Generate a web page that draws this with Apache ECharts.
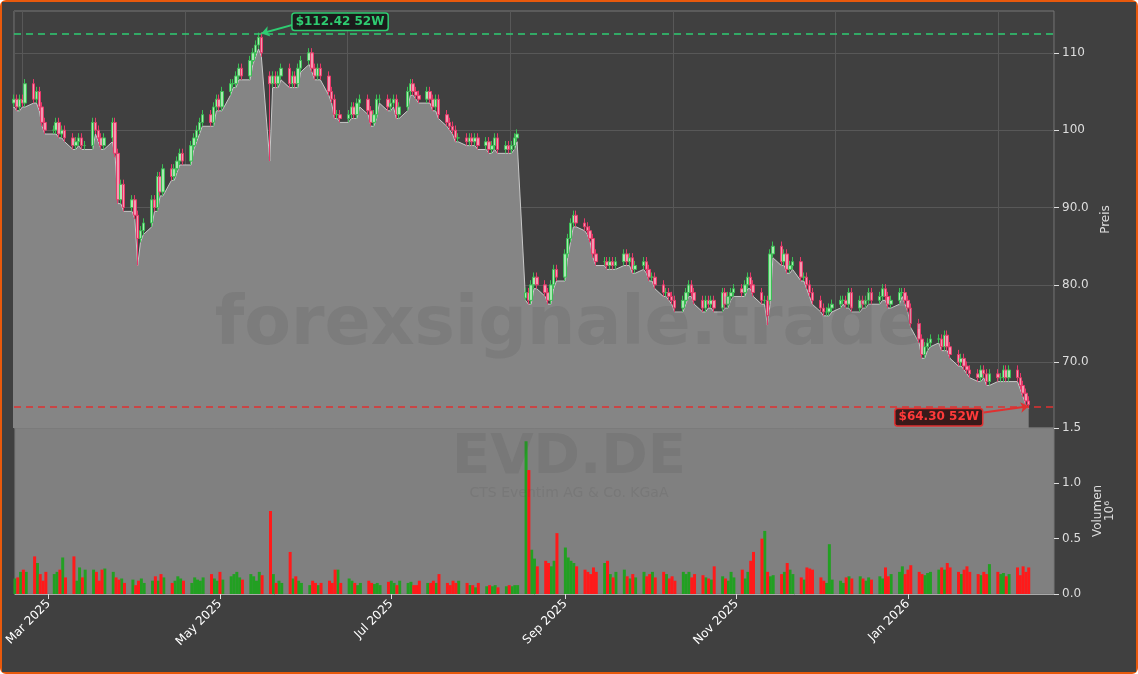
<!DOCTYPE html>
<html>
<head>
<meta charset="utf-8">
<script src="https://cdn.jsdelivr.net/npm/echarts@6/dist/echarts.min.js"></script>
<style>
    html, body { margin: 0; padding: 0; background: #fff; }
    #chart {
        width: 1134px; height: 670px;
        background: #404040;
        border: 2px solid #e8590c;
        border-radius: 6px;
    }
</style>
</head>
<body>
<div id="chart"></div>
<script>
// daily closes (EUR), last trading day 2026-02-13
var closes = [
    103,103.5,104,103,104,103.5,106,104,105,103,
    101,100,100,101,99.5,100,99,98,98.5,99,
    98,98,101,100,99,98,99,101,97,91,
    93,90,91,89,86,87,88,91,90,94,
    92,95,94,95,96,97,96,98,99,100,
    101,102,101,103,104,103,105,106,106,107,
    108,107,109,110,111,112,110,106,107,106,
    107,108,106,107,106,108,109,110,108,107,
    108,107,105,104,102,102,101.5,102,103,102,
    103.5,104,102.5,101,102,
    104,104,103,103.5,104,102,103,105,106,105,
    104.5,104,105,104,103,104,102,101,100.5,100,
    99,99,98.5,99,98.5,99,98,98.5,97.5,98,99,97.5,98,97.5,
    98,99,99.5,79,78,80,81,80,79,78,
    80,82,81,84,86,88,89,88,87.5,87,
    86,84,83,83,82.5,83,82.5,83,84,83,83.5,82,82.5,83,
    82,81,81,80,79,79,78.5,78,77,78,
    79,80,79,78,77,78,77.5,78,77,79,77.5,78.5,79,
    79.5,79,80,81,80,79,78,78,76,84,
    85,83,84,82,82.5,83,81,81,80,79,
    78,77,76.5,76.5,77,77.5,78,78,77.5,79,77,78,77.5,
    78,79,78,78.5,79.5,78.5,77.5,78,79,79,78,77,75,
    73,71,72,72.5,73,73,72,73.5,72,71,
    70,70.5,69.5,69,68.5,68,69,68.5,67.5,68.5,68,68,69,68,69,68,67,66,
    65,64.5
];
// volume in millions
var volumes = [
    .18,.16,.14,.15,.2,.22,.2,.34,.28,.18,
    .12,.2,.18,.2,.22,.33,.15,.34,.12,.24,
    .15,.22,.22,.2,.12,.22,.23,.2,.15,.13,
    .14,.1,.13,.08,.12,.14,.1,.12,.16,.12,
    .18,.15,.1,.12,.16,.14,.12,.1,.15,.13,
    .12,.15,.18,.14,.12,.2,.13,.16,.18,.2,
    .15,.13,.18,.16,.12,.2,.17,.75,.18,.1,
    .12,.1,.38,.14,.16,.12,.1,.08,.12,.1,
    .08,.1,.12,.1,.22,.22,.1,.14,.12,.1,
    .08,.1,.12,.1,.09,
    .1,.08,.11,.12,.1,.08,.12,.1,.11,.08,
    .08,.12,.1,.1,.12,.1,.18,.1,.08,.12,
    .1,.12,.1,.08,.08,.06,.1,.07,.08,.07,.08,.06,.07,.08,
    .07,.08,.08,1.38,1.12,.4,.32,.25,.3,.28,
    .25,.3,.55,.42,.33,.3,.28,.25,.22,.2,
    .18,.24,.2,.28,.3,.18,.15,.2,.22,.16,.14,.18,.15,.2,
    .16,.18,.2,.15,.2,.18,.14,.16,.12,.2,
    .18,.2,.15,.18,.17,.15,.14,.13,.25,.16,.14,.12,.2,
    .15,.22,.14,.2,.3,.38,.5,.57,.2,.16,
    .17,.18,.2,.28,.22,.18,.15,.13,.24,.23,
    .22,.15,.12,.1,.45,.13,.12,.1,.15,.16,.14,.16,.14,
    .12,.15,.13,.16,.14,.24,.16,.18,.2,.25,.18,.22,.26,
    .2,.18,.17,.19,.2,.22,.24,.22,.28,.24,
    .2,.18,.22,.25,.2,.18,.17,.2,.18,.27,.2,.18,.19,.16,.18,.24,.17,.25,
    .2,.24
];
// intraday spikes read from the wicks
var spikeLows = { 34: 82.5, 67: 96, 132: 78, 194: 74.8 };
var gapOpens = { 132: 78.3, 67: 107, 195: 78 };
var priceTicks = [70, 80, 90, 100, 110];
var monthLabels = ['2025-03-01','2025-05-01','2025-07-01','2025-09-01','2025-11-01','2026-01-01'];
var monthLines = ['2025-03-01','2025-04-01','2025-05-01','2025-06-01','2025-07-01','2025-08-01','2025-09-01','2025-10-01','2025-11-01','2025-12-01','2026-01-01','2026-02-01'];
var high52 = 112.42, low52 = 64.30;

// trading days backwards from the last bar
var dates = [];
var d = new Date(Date.UTC(2026, 1, 13));
while (dates.length < closes.length) {
    var wd = d.getUTCDay();
    if (wd !== 0 && wd !== 6) dates.unshift(d.getTime());
    d = new Date(d.getTime() - 86400000);
}

var candles = [], lows = [], volUp = [], volDn = [];
closes.forEach(function (c, i) {
    var o = gapOpens[i] !== undefined ? gapOpens[i] : (i ? closes[i - 1] : c);
    var lo = spikeLows[i] !== undefined ? spikeLows[i] : Math.min(o, c) - 0.5;
    var hi = Math.max(o, c) + 0.6;
    candles.push([dates[i], o, c, lo, hi]);
    lows.push([dates[i], lo]);
    if (c >= o) volUp.push([dates[i], volumes[i]]);
    else volDn.push([dates[i], volumes[i]]);
});

var xMin = Date.UTC(2025, 1, 17), xMax = Date.UTC(2026, 1, 22);
var tx = function (s) { return new Date(s + 'T00:00:00Z').getTime(); };
var MONTHS = ['Jan','Feb','Mar','Apr','May','Jun','Jul','Aug','Sep','Oct','Nov','Dec'];

var chart = echarts.init(document.getElementById('chart'));
var option = {
    animation: false,
    backgroundColor: '#404040',
    textStyle: { fontFamily: 'DejaVu Sans' },
    graphic: [
        { type: 'text', left: 'center', top: 290, z: 100, silent: true, style: { text: 'forexsignale.trade', fill: 'rgba(70,70,70,0.14)', font: 'bold 68px DejaVu Sans' } },
        { type: 'text', left: 'center', top: 428, z: 100, silent: true, style: { text: 'EVD.DE', fill: 'rgba(70,70,70,0.14)', font: 'bold 56px DejaVu Sans' } },
        { type: 'text', left: 'center', top: 484, z: 100, silent: true, style: { text: 'CTS Eventim AG & Co. KGaA', fill: 'rgba(70,70,70,0.14)', font: '14px DejaVu Sans' } }
    ],
    grid: [
        { left: 12, right: 82, top: 9, height: 417, show: true, borderColor: '#777', borderWidth: 1, backgroundColor: 'transparent' },
        { left: 12, right: 82, top: 426, height: 166, show: true, borderColor: '#777', borderWidth: 1, backgroundColor: '#808080' }
    ],
    xAxis: [
        { type: 'value', gridIndex: 0, min: xMin, max: xMax,
          axisTick: { show: false }, axisLine: { show: false },
          splitLine: { show: true, lineStyle: { color: '#585858' } },
          axisLabel: { show: false, customValues: monthLines.map(tx) } },
        { type: 'value', gridIndex: 1, min: xMin, max: xMax,
          axisLine: { lineStyle: { color: '#aaa' } },
          axisTick: { show: true, customValues: monthLabels.map(tx), lineStyle: { color: '#ddd' } },
          splitLine: { show: false },
          axisLabel: { customValues: monthLabels.map(tx), rotate: 45, color: '#fff', fontSize: 12,
              formatter: function (v) { var t = new Date(v); return MONTHS[t.getUTCMonth()] + ' ' + t.getUTCFullYear(); } } }
    ],
    yAxis: [
        { type: 'value', gridIndex: 0, position: 'right', min: 61.5, max: 115.4,
          name: 'Preis', nameLocation: 'middle', nameGap: 40, nameRotate: 90, nameTextStyle: { color: '#ddd', fontSize: 12 },
          axisLine: { show: false }, axisTick: { show: true, customValues: priceTicks, lineStyle: { color: '#ddd' } },
          splitLine: { show: true, lineStyle: { color: '#585858' } },
          axisLabel: { customValues: priceTicks, color: '#ddd', fontSize: 12,
              formatter: function (v) { return v >= 100 ? String(v) : v.toFixed(1); } } },
        { type: 'value', gridIndex: 1, position: 'right', min: 0, max: 1.5, interval: 0.5,
          name: 'Volumen\n10⁶', nameLocation: 'middle', nameGap: 30, nameRotate: 90, nameTextStyle: { color: '#ddd', fontSize: 12 },
          axisLine: { show: false }, axisTick: { show: true, lineStyle: { color: '#ddd' } },
          splitLine: { show: false },
          axisLabel: { color: '#ddd', fontSize: 12, formatter: function (v) { return v.toFixed(1); } } }
    ],
    series: [
        { type: 'line', xAxisIndex: 0, yAxisIndex: 0, data: lows, symbol: 'none', z: 2,
          lineStyle: { color: '#c8c8c8', width: 1 }, areaStyle: { color: '#858585', opacity: 1, origin: 'start' },
          markLine: { silent: true, symbol: 'none', data: [
              { yAxis: high52, lineStyle: { color: '#2ecc71', type: [7, 5], width: 1.5 }, label: { show: false } },
              { yAxis: low52, lineStyle: { color: '#e03030', type: [7, 5], width: 1.5 }, label: { show: false } }
          ] } },
        { type: 'candlestick', xAxisIndex: 0, yAxisIndex: 0, data: candles, barWidth: 3, z: 3,
          itemStyle: { color: '#a8e8b0', color0: '#f29ab0', borderColor: '#3bbf55', borderColor0: '#e8386a', borderWidth: 1 } },
        { type: 'line', xAxisIndex: 0, yAxisIndex: 0, data: [], z: 5,
          markLine: { silent: true, symbol: ['none', 'arrow'], symbolSize: 8, label: { show: false }, data: [
              [ { coord: [dates[76], 113.9], lineStyle: { color: '#2ecc71', width: 2, type: 'solid' } }, { coord: [dates[66], 112.5] } ],
              [ { coord: [dates[249], 63.5], lineStyle: { color: '#e03030', width: 2, type: 'solid' } }, { coord: [dates[261], 64.3] } ]
          ] },
          markPoint: { symbol: 'rect', symbolSize: 1, itemStyle: { color: 'transparent' }, data: [
              { coord: [dates[86], 114.0], label: { show: true, position: 'inside', formatter: '$112.42 52W', color: '#2ecc71', fontWeight: 'bold', fontSize: 12,
                  backgroundColor: '#1b1b1b', borderColor: '#2ecc71', borderWidth: 1.5, borderRadius: 2, padding: [2, 3] } },
              { coord: [dates[237], 62.9], label: { show: true, position: 'inside', formatter: '$64.30 52W', color: '#ff3a3a', fontWeight: 'bold', fontSize: 12,
                  backgroundColor: '#3a1a1a', borderColor: '#e03030', borderWidth: 1.5, borderRadius: 2, padding: [2, 3] } }
          ] } },
        { type: 'bar', xAxisIndex: 1, yAxisIndex: 1, data: volUp, barWidth: 3, barGap: '-100%', itemStyle: { color: '#22a022' } },
        { type: 'bar', xAxisIndex: 1, yAxisIndex: 1, data: volDn, barWidth: 3, barGap: '-100%', itemStyle: { color: '#ff1a1a' } }
    ]
};
chart.setOption(option);
</script>
</body>
</html>
